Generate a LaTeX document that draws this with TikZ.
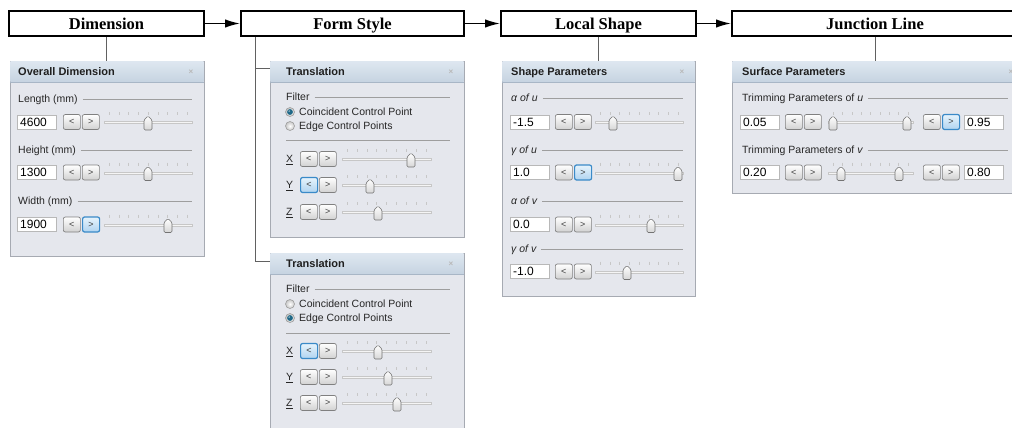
\documentclass[tikz,border=0pt]{standalone}
\usepackage{fontspec}
\setmainfont{Liberation Sans}
\newfontfamily\hdrfont{Liberation Serif}
\usetikzlibrary{arrows.meta}

\definecolor{pbg}{RGB}{229,231,237}
\definecolor{pborder}{RGB}{166,170,178}
\definecolor{headtop}{RGB}{222,231,240}
\definecolor{headbot}{RGB}{198,211,225}
\definecolor{headrule}{RGB}{168,182,198}
\definecolor{hlborder}{RGB}{58,138,200}
\definecolor{hltop}{RGB}{230,243,252}
\definecolor{hlbot}{RGB}{176,212,240}
\definecolor{radiosel}{RGB}{30,104,136}
\definecolor{labtext}{RGB}{38,38,38}

\tikzset{
  hdr/.style={draw, line width=2pt, fill=white, minimum height=25pt, inner sep=0pt,
    text height=11.2pt, text depth=0pt, font=\hdrfont\bfseries\fontsize{16.5}{18}\selectfont},
  flow/.style={line width=1.5pt, -{Latex[length=15pt,width=8.5pt]}},
  conn/.style={draw=black!62, line width=0.9pt},
  panelbody/.style={draw=pborder, fill=pbg, line width=0.8pt, inner sep=0pt},
  paneltitle/.style={anchor=west, inner sep=0pt, text=black!88, text height=7.9pt, text depth=0pt,
    font=\bfseries\fontsize{11}{13}\selectfont},
  closex/.style={inner sep=0pt, text=black!28, font=\bfseries\fontsize{8}{8}\selectfont},
  lbl/.style={anchor=west, inner sep=0pt, text=labtext, text height=7.6pt, text depth=0pt,
    font=\fontsize{10.5}{12}\selectfont},
  secrule/.style={draw=black!38, line width=0.6pt},
  field/.style={draw=black!28, fill=white, line width=0.6pt, minimum width=39pt,
    minimum height=14pt, inner sep=0pt},
  numtxt/.style={anchor=west, inner sep=0pt, text=black, text height=8.6pt, text depth=0pt,
    font=\fontsize{12}{14}\selectfont},
  btn/.style={draw=black!50, line width=0.7pt, rounded corners=2pt, top color=white,
    bottom color=black!18, minimum width=17pt, minimum height=15pt, inner sep=0pt,
    text=black!75, font=\fontsize{9}{9}\selectfont},
  btnhl/.style={btn, draw=hlborder, line width=1.2pt, top color=hltop, bottom color=hlbot},
  tickmark/.style={draw=black!22, line width=0.5pt},
  groove/.style={draw=black!22, fill=black!4, line width=0.5pt},
  thumbstyle/.style={draw=black!55, line width=0.6pt, rounded corners=1.2pt,
    top color=white, bottom color=black!16},
  radio/.style={circle, draw=black!38, line width=0.6pt, minimum size=9pt, inner sep=0pt,
    inner color=white, outer color=black!22},
}

% panel: name, x, y, width, height, title, title indent
\newcommand\uipanel[7]{%
  \node[panelbody, minimum width=#4pt, minimum height=#5pt, anchor=north west] (#1) at (#2,#3) {};
  \shade[top color=headtop, bottom color=headbot] ({#2+0.4},{#3+0.4}) rectangle ({#2+#4-0.4},{#3+21});
  \draw[draw=headrule, line width=0.6pt] ({#2+0.4},{#3+21}) -- ({#2+#4-0.4},{#3+21});
  \node[paneltitle] (#1-title) at ({#2+#7},{#3+11}) {#6};
  \node[closex] (#1-close) at ({#2+#4-13},{#3+11}) {×};
}
% section heading with a rule: name, x, y, text, rule end
\newcommand\uisection[5]{%
  \node[lbl] (#1) at (#2,#3) {#4};
  \draw[secrule] ([xshift=5pt]#1.east) -- (#5,#3);
}
% number field: name, x, y, value
\newcommand\uifield[4]{%
  \node[field, anchor=west] (#1) at (#2,#3) {};
  \node[numtxt] (#1-val) at ({#2+3},#3) {#4};
}
% pair of step buttons: name, x, y, style of <, style of >
\newcommand\uipair[5]{%
  \node[#4, anchor=west] (#1-dec) at (#2,#3) {<};
  \node[#5, anchor=west] (#1-inc) at ({#2+19},#3) {>};
}
% slider groove with ticks: name, x0, x1, y
\newcommand\uitrack[4]{%
  \path (#2,#4) coordinate (#1-a) (#3,#4) coordinate (#1-b);
  \draw[groove] (#2,{#4-0.5}) rectangle (#3,{#4+1.6});
  \foreach \k in {0,...,8}{\draw[tickmark] ({#2+5+\k*(#3-#2-10)/8},{#4-10}) -- ++(0,3);}
}
% slider thumb: name, x, y
\newcommand\uithumb[3]{%
  \coordinate (#1) at (#2,#3);
  \draw[thumbstyle] ({#2-4},{#3+8}) -- ({#2+4},{#3+8}) -- ({#2+4},{#3-2}) -- (#2,{#3-6})
    -- ({#2-4},{#3-2}) -- cycle;
}
% radio button with caption: name, x, y, selected, text
\newcommand\uiradio[5]{%
  \node[radio] (#1) at (#2,#3) {};
  \ifnum#4=1 \fill[radiosel] (#1) circle (2.9pt);
    \fill[white, opacity=0.45] ([shift={(-0.8pt,0.9pt)}]#1.center) circle (1pt);\fi
  \node[lbl] (#1-txt) at ({#2+9},#3) {#5};
}

\begin{document}
\begin{tikzpicture}[x=1pt,y=-1pt]
\path[use as bounding box] (0,0) rectangle (1012,428);
\clip (0,0) rectangle (1012,428);
\fill[white] (0,0) rectangle (1012,428);

% ---- process steps ----
\node[hdr, minimum width=195pt] (hdim) at (106.5,23.5) {Dimension};
\node[hdr, minimum width=223pt] (hform) at (352.5,23.5) {Form Style};
\node[hdr, minimum width=195pt] (hlocal) at (598.5,23.5) {Local Shape};
\node[hdr, minimum width=286pt] (hjunc) at (875,23.5) {Junction Line};
\draw[flow] (hdim.east) -- (hform.west);
\draw[flow] (hform.east) -- (hlocal.west);
\draw[flow] (hlocal.east) -- (hjunc.west);

% ---- Overall Dimension ----
\uipanel{pdim}{10}{61}{194}{195}{Overall Dimension}{8}
\uisection{dim-len-lab}{18}{99}{Length (mm)}{192}
\uifield{dim-len-f}{17}{122}{4600}
\uipair{dim-len}{63}{122}{btn}{btn}
\uitrack{dim-len-s}{104}{192}{122}
\uithumb{dim-len-t}{148}{122}
\uisection{dim-hgt-lab}{18}{150}{Height (mm)}{192}
\uifield{dim-hgt-f}{17}{172.5}{1300}
\uipair{dim-hgt}{63}{172.5}{btn}{btn}
\uitrack{dim-hgt-s}{104}{192}{172.5}
\uithumb{dim-hgt-t}{148}{172.5}
\uisection{dim-wid-lab}{18}{201}{Width (mm)}{192}
\uifield{dim-wid-f}{17}{224.5}{1900}
\uipair{dim-wid}{63}{224.5}{btn}{btnhl}
\uitrack{dim-wid-s}{104}{192}{224.5}
\uithumb{dim-wid-t}{168}{224.5}

% ---- Translation (coincident point) ----
\uipanel{ptr1}{270}{61}{194}{176}{Translation}{16}
\uisection{tr1-filter}{286}{97}{Filter}{450}
\uiradio{tr1-r1}{290}{112}{1}{Coincident Control Point}
\uiradio{tr1-r2}{290}{126}{0}{Edge Control Points}
\draw[secrule] (286,140) -- (450,140);
\node[lbl] (tr1-xl) at (286,159) {\underline{X}};
\uipair{tr1-x}{300}{159}{btn}{btn}
\uitrack{tr1-x-s}{342}{431}{159}
\uithumb{tr1-x-t}{411}{159}
\node[lbl] (tr1-yl) at (286,185) {\underline{Y}};
\uipair{tr1-y}{300}{185}{btnhl}{btn}
\uitrack{tr1-y-s}{342}{431}{185}
\uithumb{tr1-y-t}{370}{185}
\node[lbl] (tr1-zl) at (286,212) {\underline{Z}};
\uipair{tr1-z}{300}{212}{btn}{btn}
\uitrack{tr1-z-s}{342}{431}{212}
\uithumb{tr1-z-t}{378}{212}

% ---- Translation (edge points) ----
\uipanel{ptr2}{270}{253}{194}{190}{Translation}{16}
\uisection{tr2-filter}{286}{289}{Filter}{450}
\uiradio{tr2-r1}{290}{304}{0}{Coincident Control Point}
\uiradio{tr2-r2}{290}{318}{1}{Edge Control Points}
\draw[secrule] (286,333) -- (450,333);
\node[lbl] (tr2-xl) at (286,351) {\underline{X}};
\uipair{tr2-x}{300}{351}{btnhl}{btn}
\uitrack{tr2-x-s}{342}{431}{351}
\uithumb{tr2-x-t}{378}{351}
\node[lbl] (tr2-yl) at (286,377) {\underline{Y}};
\uipair{tr2-y}{300}{377}{btn}{btn}
\uitrack{tr2-y-s}{342}{431}{377}
\uithumb{tr2-y-t}{388}{377}
\node[lbl] (tr2-zl) at (286,403) {\underline{Z}};
\uipair{tr2-z}{300}{403}{btn}{btn}
\uitrack{tr2-z-s}{342}{431}{403}
\uithumb{tr2-z-t}{397}{403}

% ---- Shape Parameters ----
\uipanel{pshape}{502}{61}{193}{235}{Shape Parameters}{9}
\uisection{sh-au-lab}{511}{98}{\itshape α of u}{683}
\uifield{sh-au-f}{510}{122}{-1.5}
\uipair{sh-au}{555}{122}{btn}{btn}
\uitrack{sh-au-s}{595}{683}{122}
\uithumb{sh-au-t}{613}{122}
\uisection{sh-gu-lab}{511}{150}{\itshape γ of u}{683}
\uifield{sh-gu-f}{510}{172.5}{1.0}
\uipair{sh-gu}{555}{172.5}{btn}{btnhl}
\uitrack{sh-gu-s}{595}{683}{172.5}
\uithumb{sh-gu-t}{678}{172.5}
\uisection{sh-av-lab}{511}{201}{\itshape α of v}{683}
\uifield{sh-av-f}{510}{224.5}{0.0}
\uipair{sh-av}{555}{224.5}{btn}{btn}
\uitrack{sh-av-s}{595}{683}{224.5}
\uithumb{sh-av-t}{651}{224.5}
\uisection{sh-gv-lab}{511}{249}{\itshape γ of v}{683}
\uifield{sh-gv-f}{510}{271.5}{-1.0}
\uipair{sh-gv}{555}{271.5}{btn}{btn}
\uitrack{sh-gv-s}{595}{683}{271.5}
\uithumb{sh-gv-t}{627}{271.5}

% ---- Surface Parameters ----
\uipanel{psurf}{732}{61}{292}{132}{Surface Parameters}{10}
\uisection{sf-u-lab}{742}{98}{Trimming Parameters of {\itshape u}}{1008}
\uifield{sf-u-lo}{740}{122}{0.05}
\uipair{sf-u-l}{785}{122}{btn}{btn}
\uitrack{sf-u-s}{828}{913}{122}
\uithumb{sf-u-t1}{833}{122}
\uithumb{sf-u-t2}{907}{122}
\uipair{sf-u-r}{923}{122}{btn}{btnhl}
\uifield{sf-u-hi}{964}{122}{0.95}
\uisection{sf-v-lab}{742}{150}{Trimming Parameters of {\itshape v}}{1008}
\uifield{sf-v-lo}{740}{172.5}{0.20}
\uipair{sf-v-l}{785}{172.5}{btn}{btn}
\uitrack{sf-v-s}{828}{913}{172.5}
\uithumb{sf-v-t1}{841}{172.5}
\uithumb{sf-v-t2}{899}{172.5}
\uipair{sf-v-r}{923}{172.5}{btn}{btn}
\uifield{sf-v-hi}{964}{172.5}{0.80}

% ---- links from steps to their panels ----
\draw[conn] (hdim.south) -- (hdim.south |- pdim.north);
\coordinate (fsdrop) at ([xshift=-97.5pt]hform.south);
\draw[conn] (fsdrop) |- ([yshift=-7pt]ptr1.north west);
\draw[conn] (fsdrop) |- ([yshift=-8pt]ptr2.north west);
\draw[conn] (hlocal.south -| pshape.north) -- (pshape.north);
\draw[conn] (hjunc.south) -- (hjunc.south |- psurf.north);
\end{tikzpicture}
\end{document}
